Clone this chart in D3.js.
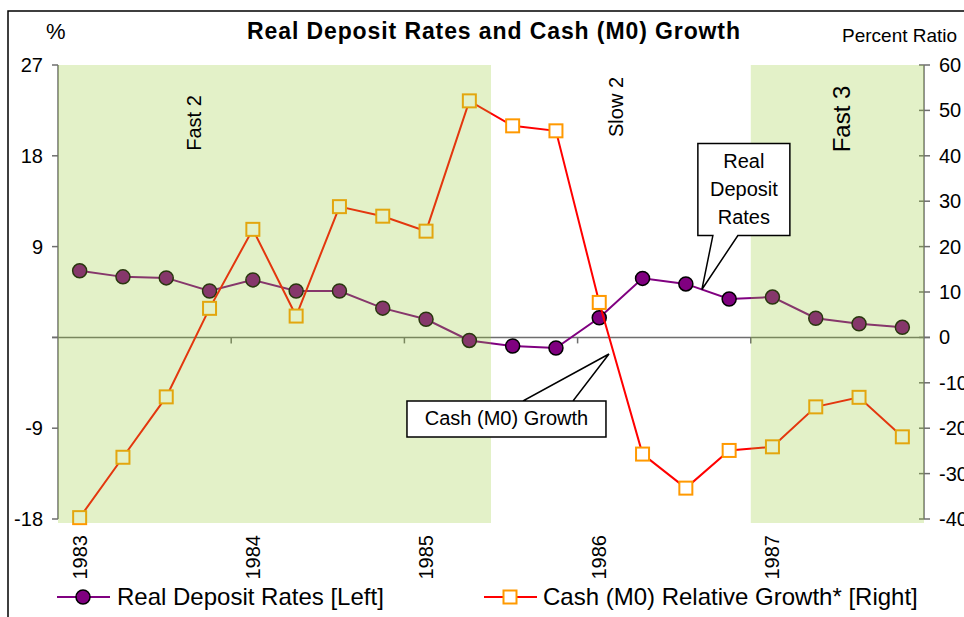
<!DOCTYPE html>
<html lang="en">
<head>
<meta charset="UTF-8">
<title>Real Deposit Rates and Cash (M0) Growth</title>
<script src="https://d3js.org/d3.v7.min.js"></script>
<style>
    body { margin: 0; background: #fff; }
    svg { display: block; font-family: "Liberation Sans", Arial, sans-serif; }
</style>
</head>
<body>
<svg id="chart"></svg>
<script>
    // quarterly categories, 1983 Q1 .. 1987 Q4
    const quarters = [
        "1983Q1", "1983Q2", "1983Q3", "1983Q4",
        "1984Q1", "1984Q2", "1984Q3", "1984Q4",
        "1985Q1", "1985Q2", "1985Q3", "1985Q4",
        "1986Q1", "1986Q2", "1986Q3", "1986Q4",
        "1987Q1", "1987Q2", "1987Q3", "1987Q4"
    ];
    const yearLabels = ["1983", "1984", "1985", "1986", "1987"];

    const realDeposit = [6.6, 6.0, 5.9, 4.6, 5.7, 4.6, 4.6, 2.9, 1.8, -0.3,
                         -0.85, -1.05, 1.95, 5.85, 5.3, 3.8, 4.0, 1.9, 1.35, 1.0];
    const cashGrowth = [-39.7, -26.4, -13.1, 6.4, 23.8, 4.7, 28.8, 26.7, 23.4, 52.1,
                        46.6, 45.5, 7.7, -25.7, -33.2, -24.9, -24.1, -15.3, -13.2, -21.9];

    const leftTicks = [27, 18, 9, 0, -9, -18];
    const rightTicks = [60, 50, 40, 30, 20, 10, 0, -10, -20, -30, -40];

    const shaded = [
        { from: "1983Q1", to: "1985Q2" },
        { from: "1987Q1", to: "1987Q4" }
    ];
    const phaseLabels = [
        { text: "Fast 2", at: "1983Q4", size: 20 },
        { text: "Slow 2", at: "1986Q2", size: 20 },
        { text: "Fast 3", at: "1987Q3", size: 24 }
    ];

    const width = 964, height = 617;
    const plot = { left: 58, right: 924, top: 65, bottom: 519 };

    const svg = d3.select("#chart").attr("width", width).attr("height", height);

    const x = d3.scaleBand().domain(quarters).range([plot.left, plot.right]).padding(0);
    const yL = d3.scaleLinear().domain([-18, 27]).range([plot.bottom, plot.top]);
    const yR = d3.scaleLinear().domain([-40, 60]).range([plot.bottom, plot.top]);
    const cx = q => x(q) + x.bandwidth() / 2;

    // outer frame (cropped on the right)
    svg.append("path")
        .attr("d", `M8,${height}V11H${width}`)
        .attr("fill", "none").attr("stroke", "#000").attr("stroke-width", 1.5);

    // title and axis captions
    svg.append("text")
        .attr("x", 247).attr("y", 39)
        .attr("textLength", 493).attr("lengthAdjust", "spacing")
        .attr("font-size", 23).attr("font-weight", "bold")
        .text("Real Deposit Rates and Cash (M0) Growth");
    svg.append("text").attr("x", 46).attr("y", 39).attr("font-size", 22).text("%");
    svg.append("text").attr("x", 842).attr("y", 42).attr("font-size", 19).text("Percent Ratio");

    const axisColor = "#6e6e6e";

    // left axis
    const gl = svg.append("g");
    gl.append("line")
        .attr("x1", plot.left).attr("x2", plot.left)
        .attr("y1", plot.top).attr("y2", plot.bottom)
        .attr("stroke", axisColor).attr("stroke-width", 1.5);
    gl.selectAll("line.tick").data(leftTicks).join("line")
        .attr("class", "tick")
        .attr("x1", plot.left - 6).attr("x2", plot.left)
        .attr("y1", d => yL(d)).attr("y2", d => yL(d))
        .attr("stroke", axisColor).attr("stroke-width", 1.5);
    gl.selectAll("text").data(leftTicks.filter(d => d !== 0)).join("text")
        .attr("x", 43).attr("y", d => yL(d)).attr("dy", "0.35em")
        .attr("text-anchor", "end").attr("font-size", 20)
        .text(d => d);

    // right axis (labels run off the cropped right edge, as in the source)
    const gr = svg.append("g");
    gr.append("line")
        .attr("x1", plot.right).attr("x2", plot.right)
        .attr("y1", plot.top).attr("y2", plot.bottom)
        .attr("stroke", axisColor).attr("stroke-width", 1.5);
    gr.selectAll("line.tick").data(rightTicks).join("line")
        .attr("class", "tick")
        .attr("x1", plot.right - 5).attr("x2", plot.right + 6)
        .attr("y1", d => yR(d)).attr("y2", d => yR(d))
        .attr("stroke", axisColor).attr("stroke-width", 1.5);
    gr.selectAll("text").data(rightTicks).join("text")
        .attr("x", 939).attr("y", d => yR(d)).attr("dy", "0.35em")
        .attr("font-size", 20)
        .text(d => d);

    // category axis crossing at zero
    const gx = svg.append("g");
    gx.append("line")
        .attr("x1", plot.left - 6).attr("x2", plot.right + 6)
        .attr("y1", yL(0)).attr("y2", yL(0))
        .attr("stroke", axisColor).attr("stroke-width", 1.5);
    gx.selectAll("line.tick").data(quarters.filter((q, i) => i % 4 === 0 && i > 0)).join("line")
        .attr("class", "tick")
        .attr("x1", d => x(d)).attr("x2", d => x(d))
        .attr("y1", yL(0)).attr("y2", yL(0) + 6)
        .attr("stroke", axisColor).attr("stroke-width", 1.5);
    gx.selectAll("text").data(yearLabels).join("text")
        .attr("transform", d => `translate(${cx(d + "Q1")},${plot.bottom + 16}) rotate(-90)`)
        .attr("dy", "0.35em")
        .attr("text-anchor", "end").attr("font-size", 20)
        .text(d => d);

    // real deposit rates (left)
    const rd = quarters.map((q, i) => ({ q, v: realDeposit[i] }));
    svg.append("path").datum(rd)
        .attr("d", d3.line().x(d => cx(d.q)).y(d => yL(d.v)))
        .attr("fill", "none").attr("stroke", "#800080").attr("stroke-width", 2);
    svg.selectAll("circle.rd").data(rd).join("circle")
        .attr("class", "rd")
        .attr("cx", d => cx(d.q)).attr("cy", d => yL(d.v)).attr("r", 7)
        .attr("fill", "#800080").attr("stroke", "#000").attr("stroke-width", 1.5);

    // cash growth (right)
    const cg = quarters.map((q, i) => ({ q, v: cashGrowth[i] }));
    svg.append("path").datum(cg)
        .attr("d", d3.line().x(d => cx(d.q)).y(d => yR(d.v)))
        .attr("fill", "none").attr("stroke", "#ff0000").attr("stroke-width", 2);
    svg.selectAll("rect.cg").data(cg).join("rect")
        .attr("class", "cg")
        .attr("x", d => cx(d.q) - 6.5).attr("y", d => yR(d.v) - 6.5)
        .attr("width", 13).attr("height", 13)
        .attr("fill", "#fff").attr("stroke", "#ff9900").attr("stroke-width", 2);

    // translucent phase shading drawn over the series
    svg.selectAll("rect.shade").data(shaded).join("rect")
        .attr("class", "shade")
        .attr("x", d => x(d.from))
        .attr("y", plot.top)
        .attr("width", d => x(d.to) + x.bandwidth() - x(d.from))
        .attr("height", plot.bottom - plot.top + 4)
        .attr("fill", "#99cc33").attr("opacity", 0.27);

    svg.selectAll("text.phase").data(phaseLabels).join("text")
        .attr("class", "phase")
        .attr("transform", d => {
            const px = d.text === "Slow 2" ? x(d.at) + 2 : x(d.at) + 13;
            const py = d.text === "Slow 2" ? 107 : (d.text === "Fast 3" ? 119 : 123);
            return `translate(${px},${py}) rotate(-90)`;
        })
        .attr("text-anchor", "middle").attr("font-size", d => d.size)
        .text(d => d.text);

    // callouts
    function callout(tip, box, base, lines, baseline0) {
        const d = `M${box.x},${box.y}H${box.x + box.w}V${box.y + box.h}` +
            (base.side === "bottom"
                ? `H${base.b}L${tip[0]},${tip[1]}L${base.a},${box.y + box.h}H${box.x}Z`
                : `H${box.x}V${box.y}H${base.a}L${tip[0]},${tip[1]}L${base.b},${box.y}Z`);
        svg.append("path").attr("d", d)
            .attr("fill", "#fff").attr("stroke", "#000").attr("stroke-width", 1.5);
        svg.selectAll(null).data(lines).join("text")
            .attr("x", box.x + box.w / 2).attr("y", (l, i) => box.y + baseline0 + i * 28)
            .attr("text-anchor", "middle").attr("font-size", 20)
            .text(l => l);
    }

    // tip of "Real Deposit Rates" sits on the segment 1986Q3 -> 1986Q4
    const t1 = 0.37;
    const tipR = [cx("1986Q3") + t1 * (cx("1986Q4") - cx("1986Q3")),
                  yL(realDeposit[14]) + t1 * (yL(realDeposit[15]) - yL(realDeposit[14]))];
    callout(tipR,
        { x: tipR[0] - 4, y: tipR[1] - 146, w: 92, h: 92 },
        { side: "bottom", a: tipR[0] + 11, b: tipR[0] + 36 },
        ["Real", "Deposit", "Rates"], 24);

    // tip of "Cash (M0) Growth" sits just left of segment 1986Q1 -> 1986Q2
    const t2 = 0.34;
    const tipC = [cx("1986Q1") + t2 * (cx("1986Q2") - cx("1986Q1")) - 5,
                  yR(cashGrowth[12]) + t2 * (yR(cashGrowth[13]) - yR(cashGrowth[12]))];
    callout(tipC,
        { x: tipC[0] - 202, y: tipC[1] + 47, w: 199, h: 36 },
        { side: "top", a: tipC[0] - 86, b: tipC[0] - 36 },
        ["Cash (M0) Growth"], 24);

    // legend
    const legendY = 597;
    const lg = svg.append("g");
    lg.append("line").attr("x1", 57).attr("x2", 110).attr("y1", legendY).attr("y2", legendY)
        .attr("stroke", "#800080").attr("stroke-width", 2);
    lg.append("circle").attr("cx", 83).attr("cy", legendY).attr("r", 7)
        .attr("fill", "#800080").attr("stroke", "#000").attr("stroke-width", 1.5);
    lg.append("text").attr("x", 117).attr("y", legendY).attr("dy", "0.35em")
        .attr("font-size", 24).text("Real Deposit Rates [Left]");
    lg.append("line").attr("x1", 484).attr("x2", 537).attr("y1", legendY).attr("y2", legendY)
        .attr("stroke", "#ff0000").attr("stroke-width", 2);
    lg.append("rect").attr("x", 503.5).attr("y", legendY - 6.5).attr("width", 13).attr("height", 13)
        .attr("fill", "#fff").attr("stroke", "#ff9900").attr("stroke-width", 2);
    lg.append("text").attr("x", 543).attr("y", legendY).attr("dy", "0.35em")
        .attr("font-size", 24).text("Cash (M0) Relative Growth* [Right]");
</script>
</body>
</html>
